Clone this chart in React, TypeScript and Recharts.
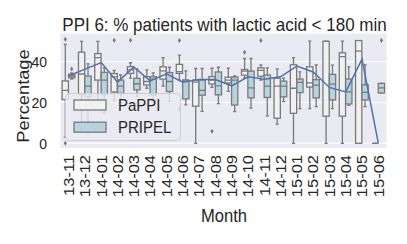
import React from 'react';
import { ComposedChart, Bar, Line, XAxis, YAxis, CartesianGrid, Legend } from 'recharts';

// ---------- data ----------
const months = ['13-11', '13-12', '14-01', '14-02', '14-03', '14-04', '14-05', '14-06', '14-07', '14-08',
  '14-09', '14-10', '14-11', '14-12', '15-01', '15-02', '15-03', '15-04', '15-05', '15-06'];

const pappiLow = [3, 10, 20, 21, 32, 27, 28, 31, 0, 27.5, 25.5, 32, 31, 9.4, 0, 17, 0, 0, 0, 0];
const pappiQ1 = [21.5, 24, 31, 25.2, 34.3, 28.6, 31.5, 34.3, 18.2, 29.1, 29.6, 33.4, 32.9, 12.3, 14.7, 27.6, 13.3, 13.3, 0, 0];
const pappiMed = [26, 34, 42, 32.6, 36, 30.3, 35.5, 35.2, 30, 31, 31, 35.4, 35.8, 28, 27, 29.6, 50, 42.5, 45.2, 0];
const pappiQ3 = [30.6, 44.7, 44, 34.2, 37.6, 32.7, 37.5, 38.7, 31, 32.7, 32.4, 36.2, 37, 31.9, 38.5, 37.5, 50, 44.4, 50.4, 0];
const pappiHigh = [48.5, 50, 50, 35.8, 39.5, 36, 42, 43.2, 36.7, 36.8, 36.9, 41.6, 38.5, 36.5, 42, 50.1, 50, 50.1, 50.4, 0];
const pappiFliers: number[][] = [[0, 51], [], [], [50.5], [50.5], [], [], [50.4, 17], [], [5.9], [], [44.6], [50.4], [], [], [], [], [], [], []];

const pripelLow = [31.5, 5, 15, 20, 23, 20.3, 20.4, 18.8, 15.7, 19.5, 15.5, 17.3, 13.5, 20.4, 17, 18, 17, 18.6, 18, 24.7];
const pripelQ1 = [32.1, 23, 24, 24.5, 26.2, 23.6, 25.4, 21.8, 23.6, 23.8, 18.8, 22.3, 22.5, 22.8, 24.9, 22.3, 21.3, 19.3, 21.3, 24.7];
const pripelMed = [33, 28, 31, 28, 29.2, 31.5, 30.3, 30.5, 26, 28.2, 31, 27.2, 28, 28, 29.9, 28.5, 29, 25.2, 25, 27.2];
const pripelQ3 = [33.9, 33, 34.8, 31, 31.9, 32.7, 34.7, 31.1, 31, 35, 32.5, 35.4, 33.5, 30.5, 31.5, 31.2, 33.8, 31.5, 28.7, 29.4];
const pripelHigh = [34.5, 39, 37, 33.5, 36.5, 34.5, 37.3, 35.5, 36.7, 37.3, 33, 41.6, 37, 32, 35, 38.5, 38.3, 37.5, 38.5, 29.4];
const pripelFliers: number[][] = [[36.5], [], [], [], [], [], [], [], [], [], [], [], [], [], [], [], [], [], [], [50.4]];

const trendValues = [33, 36.4, 39.6, 30, 37.4, 30.6, 34.1, 30, 31.3, 31.3, 28.2, 32.6, 31.4, 32.6, 37.9, 35, 27.4, 25.2, 41.3, 0];

const yTicks = [0, 20, 40];
const seriesNames = ['PaPPI', 'PRIPEL'];

// ---------- style ----------
const Y_MIN = -2.55;
const Y_MAX = 54.1;
const S = 1.1; // vertical stretch of glyphs
const FONT = '"Liberation Sans", Arial, sans-serif';
const TEXT = '#262626';
const EDGE = '#797979';
const PAPPI_FILL = '#f1f1f1';
const PRIPEL_FILL = '#b4d4df';
const LINE_COLOR = '#4c72b0';
const BG = '#EAEAF2';
const LW = 1.3;

type Stats = { lo: number; q1: number; med: number; q3: number; hi: number; fliers: number[] };

const rows = months.map((m, i) => ({
  month: m,
  pappi: { lo: pappiLow[i], q1: pappiQ1[i], med: pappiMed[i], q3: pappiQ3[i], hi: pappiHigh[i], fliers: pappiFliers[i] } as Stats,
  pripel: { lo: pripelLow[i], q1: pripelQ1[i], med: pripelMed[i], q3: pripelQ3[i], hi: pripelHigh[i], fliers: pripelFliers[i] } as Stats,
  trend: trendValues[i],
}));

const fillOf: Record<string, string> = { PaPPI: PAPPI_FILL, PRIPEL: PRIPEL_FILL };

function boxShape(key: 'pappi' | 'pripel', fill: string) {
  return (props: any) => {
    const { x, y, width, height, payload } = props;
    if (![x, y, width, height].every((v) => Number.isFinite(v)) || !payload) return <g />;
    const st: Stats = payload[key];
    const py = (v: number) => y + ((Y_MAX - v) / (Y_MAX - Y_MIN)) * height;
    const band = width * 2;
    const cx = key === 'pappi' ? x + width - band * 0.2 : x + band * 0.2;
    const bw = band * 0.392;
    const cw = bw / 2;
    const top = py(st.q3);
    const bot = py(st.q1);
    const yHi = py(st.hi);
    const yLo = py(st.lo);
    const ym = py(st.med);
    return (
      <g>
        <line x1={cx} x2={cx} y1={yHi} y2={top} stroke={EDGE} strokeWidth={LW} />
        <line x1={cx} x2={cx} y1={bot} y2={yLo} stroke={EDGE} strokeWidth={LW} />
        <line x1={cx - cw / 2} x2={cx + cw / 2} y1={yHi} y2={yHi} stroke={EDGE} strokeWidth={LW} />
        <line x1={cx - cw / 2} x2={cx + cw / 2} y1={yLo} y2={yLo} stroke={EDGE} strokeWidth={LW} />
        <rect x={cx - bw / 2} y={top} width={bw} height={Math.max(bot - top, 0)} fill={fill} stroke={EDGE} strokeWidth={LW} />
        <line x1={cx - bw / 2} x2={cx + bw / 2} y1={ym} y2={ym} stroke={EDGE} strokeWidth={LW} />
        {st.fliers.map((f, j) => {
          const fy = py(f);
          return (
            <polygon key={j} points={`${cx},${fy - 2.5} ${cx + 1.6},${fy} ${cx},${fy + 2.5} ${cx - 1.6},${fy}`} fill={EDGE} />
          );
        })}
      </g>
    );
  };
}

const XTick = (props: any) => {
  const { x, payload } = props;
  return (
    <g transform={`translate(${x},155) rotate(-90) scale(${S},1)`}>
      <text x={0} y={0} dy="0.35em" textAnchor="end" fontFamily={FONT} fontSize={15} fill={TEXT}>
        {payload.value}
      </text>
    </g>
  );
};

const YTick = (props: any) => {
  const { y, payload } = props;
  return (
    <g transform={`translate(47,${y}) scale(1,${S})`}>
      <text x={0} y={0} dy="0.35em" textAnchor="end" fontFamily={FONT} fontSize={14} fill={TEXT}>
        {payload.value}
      </text>
    </g>
  );
};

const renderLegend = () => (
  <svg width={117} height={49} style={{ display: 'block', overflow: 'visible' }}>
    <rect x={0.5} y={0.5} width={115} height={47} rx={4} ry={4} fill={BG} fillOpacity={0.8} stroke="#cccccc" strokeWidth={1} />
    {seriesNames.map((name, i) => (
      <g key={name}>
        <rect x={9} y={7 + i * 22.2} width={32} height={10} fill={fillOf[name]} stroke={EDGE} strokeWidth={LW} />
        <g transform={`translate(53,${17.5 + i * 22.2}) scale(1,${S})`}>
          <text x={0} y={0} fontFamily={FONT} fontSize={15} fill={TEXT}>{name}</text>
        </g>
      </g>
    ))}
  </svg>
);

export default function App() {
  return (
    <div style={{ position: 'absolute', left: 0, top: 0, width: 407, height: 244, background: '#ffffff', fontFamily: FONT }}>
      <ComposedChart
        width={407}
        height={244}
        data={rows}
        margin={{ top: 33, right: 20.5, bottom: 0, left: 0 }}
        barCategoryGap={0}
        barGap={0}
      >
        <CartesianGrid vertical={false} stroke="#ffffff" strokeWidth={1.1} fill={BG} fillOpacity={1} />
        <XAxis dataKey="month" type="category" interval={0} axisLine={false} tickLine={false} height={95.5} tick={<XTick />} />
        <YAxis
          type="number"
          domain={[Y_MIN, Y_MAX]}
          ticks={yTicks}
          allowDataOverflow
          axisLine={false}
          tickLine={false}
          width={60.5}
          tick={<YTick />}
          interval={0}
        />
        <Bar
          name="PaPPI"
          dataKey={() => [Y_MIN, Y_MAX]}
          fill={PAPPI_FILL}
          shape={boxShape('pappi', PAPPI_FILL)}
          isAnimationActive={false}
        />
        <Bar
          name="PRIPEL"
          dataKey={() => [Y_MIN, Y_MAX]}
          fill={PRIPEL_FILL}
          shape={boxShape('pripel', PRIPEL_FILL)}
          isAnimationActive={false}
        />
        <Line
          name="trend"
          dataKey="trend"
          type="linear"
          stroke={LINE_COLOR}
          strokeWidth={1.5}
          dot={false}
          activeDot={false}
          legendType="none"
          isAnimationActive={false}
        />
        <Legend
          layout="horizontal"
          verticalAlign="middle"
          align="center"
          wrapperStyle={{ left: 64.5, top: 92.5, width: 117, height: 49 }}
          content={renderLegend}
        />
      </ComposedChart>
      <svg width={407} height={244} style={{ position: 'absolute', left: 0, top: 0, pointerEvents: 'none' }}>
        <g transform={`translate(224.5,31) scale(1,${S})`}>
          <text textAnchor="middle" fontFamily={FONT} fontSize={17} fill={TEXT}>
            PPI 6: % patients with lactic acid &lt; 180 min
          </text>
        </g>
        <g transform={`translate(224,222) scale(1,${S})`}>
          <text textAnchor="middle" fontFamily={FONT} fontSize={16.6} fill={TEXT}>Month</text>
        </g>
        <g transform={`translate(29,96) rotate(-90) scale(${S},1)`}>
          <text textAnchor="middle" fontFamily={FONT} fontSize={16.6} fill={TEXT}>Percentage</text>
        </g>
      </svg>
    </div>
  );
}
